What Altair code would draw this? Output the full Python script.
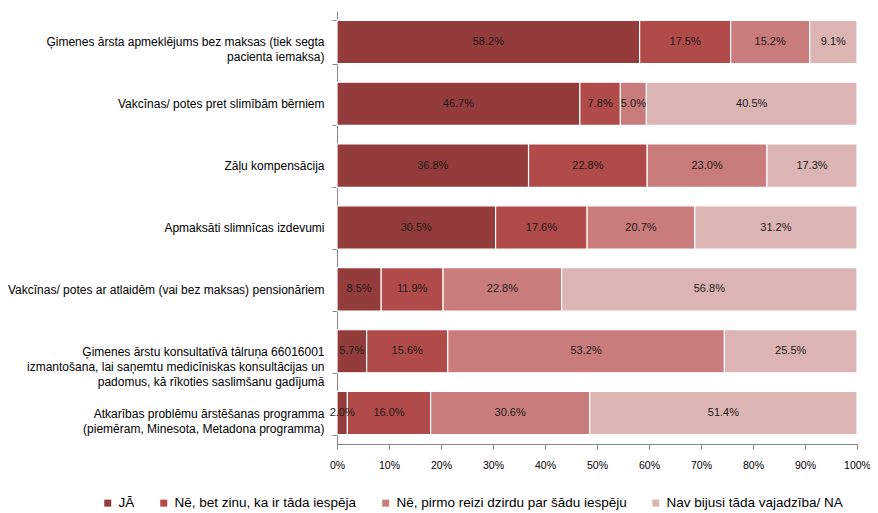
import altair as alt
import pandas as pd

categories = [
    "Ģimenes ārsta apmeklējums bez maksas (tiek segta\npacienta iemaksa)",
    "Vakcīnas/ potes pret slimībām bērniem",
    "Zāļu kompensācija",
    "Apmaksāti slimnīcas izdevumi",
    "Vakcīnas/ potes ar atlaidēm (vai bez maksas) pensionāriem",
    "Ģimenes ārstu konsultatīvā  tālruņa 66016001\nizmantošana, lai saņemtu medicīniskas konsultācijas un\npadomus, kā rīkoties saslimšanu  gadījumā",
    "Atkarības problēmu ārstēšanas programma\n(piemēram, Minesota, Metadona programma)",
]
series = [
    "JĀ",
    "Nē, bet zinu, ka ir tāda iespēja",
    "Nē, pirmo reizi dzirdu par šādu iespēju",
    "Nav bijusi tāda vajadzība/ NA",
]
ja = [58.2, 46.7, 36.8, 30.5, 8.5, 5.7, 2.0]
ne_zinu = [17.5, 7.8, 22.8, 17.6, 11.9, 15.6, 16.0]
ne_pirmo = [15.2, 5.0, 23.0, 20.7, 22.8, 53.2, 30.6]
nav = [9.1, 40.5, 17.3, 31.2, 56.8, 25.5, 51.4]
colors = ["#943C3B", "#B14B49", "#C97C7B", "#DDB4B4"]

rows = []
for i, c in enumerate(categories):
    for j, vals in enumerate([ja, ne_zinu, ne_pirmo, nav]):
        rows.append({"cat": c, "series": series[j], "order": j, "value": vals[i]})
df = pd.DataFrame(rows)

font = "'Liberation Sans', Arial, sans-serif"

base = alt.Chart(df).transform_stack(
    stack="value", groupby=["cat"], as_=["v0", "v1"], sort=[alt.SortField("order")]
).transform_joinaggregate(
    total="sum(value)", groupby=["cat"]
).transform_calculate(
    x0="datum.v0 / datum.total",
    x1="datum.v1 / datum.total",
    xm="(datum.v0 + datum.v1) / 2 / datum.total",
    lbl="format(datum.value, '.1f') + '%'",
)

y_enc = alt.Y(
    "cat:N",
    sort=categories,
    title=None,
    scale=alt.Scale(paddingInner=0.3, paddingOuter=0.15),
    axis=alt.Axis(
        labelExpr="split(datum.label, '\\n')",
        labelFont=font,
        labelFontSize=12,
        labelColor="#000000",
        labelLimit=400,
        labelPadding=8,
        labelLineHeight=15,
        tickBand="extent",
        tickSize=5,
        tickColor="#868686",
        domainColor="#868686",
        grid=False,
    ),
)

bars = base.mark_bar(stroke="white", strokeWidth=1.2).encode(
    x=alt.X(
        "x0:Q",
        scale=alt.Scale(domain=[0, 1]),
        title=None,
        axis=alt.Axis(
            format="%",
            values=[i / 10 for i in range(11)],
            grid=False,
            labelFont=font,
            labelFontSize=10.5,
            labelColor="#000000",
            labelPadding=11,
            labelFlush=False,
            tickSize=5,
            tickColor="#868686",
            domainColor="#868686",
        ),
    ),
    x2="x1:Q",
    y=y_enc,
    color=alt.Color(
        "series:N",
        sort=series,
        scale=alt.Scale(domain=series, range=colors),
        legend=alt.Legend(
            title=None,
            orient="none",
            direction="horizontal",
            legendX=-236,
            legendY=485,
            symbolType="square",
            symbolSize=49,
            symbolStrokeWidth=0,
            labelFont=font,
            labelFontSize=13.5,
            labelColor="#000000",
            labelLimit=400,
            columnPadding=22,
            labelOffset=4,
        ),
    ),
    order=alt.Order("order:Q"),
)

texts = base.mark_text(font=font, fontSize=11, color="#1a1a1a").encode(
    x="xm:Q",
    y=alt.Y("cat:N", sort=categories),
    text="lbl:N",
)

chart = alt.layer(bars, texts).properties(
    width=520,
    height=433,
    padding={"left": 329, "top": 3, "right": 13, "bottom": 67},
    autosize=alt.AutoSizeParams(type="none"),
).configure_view(stroke=None)

chart.save("out.html", embed_options={"renderer": "svg", "actions": False})
